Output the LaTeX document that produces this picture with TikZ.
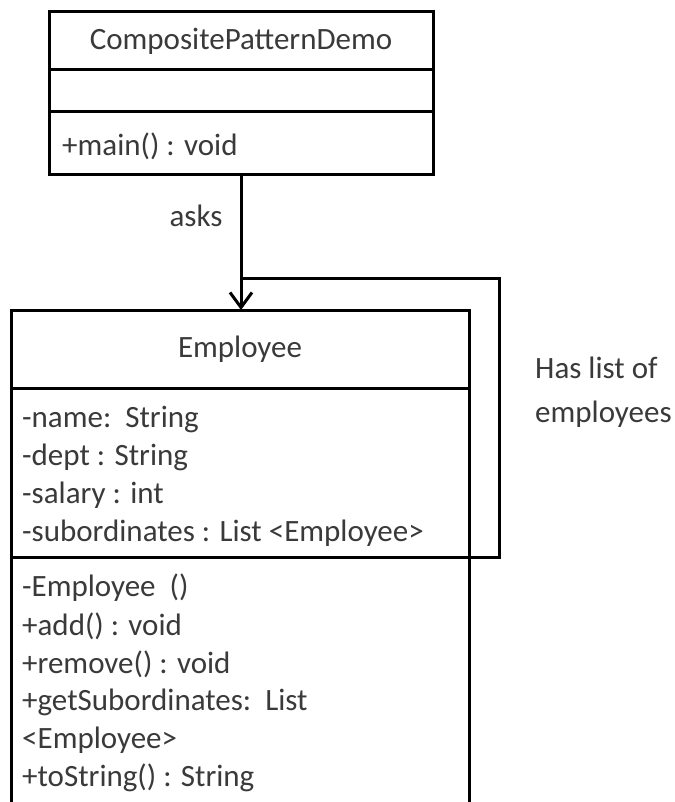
\documentclass[tikz,border=0pt]{standalone}
\usepackage{fontspec}
\setmainfont{Carlito}
\usetikzlibrary{arrows.meta}
\definecolor{txt}{HTML}{3A3A3A}
\begin{document}
\begin{tikzpicture}[x=1pt,y=-1pt,
  umlbox/.style={draw=black, line width=3pt, rectangle, inner sep=0pt, outer sep=0pt},
  lbl/.style={text=txt, font=\fontsize{31}{38}\selectfont, inner sep=0pt},
  conn/.style={draw=black, line width=3pt}]
\clip (0,0) rectangle (674,802);
\fill[white] (0,0) rectangle (674,802);
% CompositePatternDemo class
\node[umlbox, minimum width=384pt, minimum height=58pt] (cpdT) at (241,41) {};
\node[umlbox, minimum width=384pt, minimum height=42pt] (cpdA) at (241,91) {};
\node[umlbox, minimum width=384pt, minimum height=63pt] (cpdM) at (241,143.5) {};
\node[lbl] (cpdname) at (241,41) {CompositePatternDemo};
\node[lbl, anchor=west] (cpdm1) at (62,146) {+main() : void};
% Employee class
\node[umlbox, minimum width=458pt, minimum height=78pt] (empT) at (240,349) {};
\node[umlbox, minimum width=458pt, minimum height=169pt] (empA) at (240,472.5) {};
\node[umlbox, minimum width=458pt, minimum height=270pt] (empM) at (240,692) {};
\node[lbl] (empname) at (240,349) {Employee};
\node[lbl, anchor=west] (a1) at (22,419) {-name:\ \ String};
\node[lbl, anchor=west] (a2) at (22,457) {-dept : String};
\node[lbl, anchor=west] (a3) at (22,495) {-salary : int};
\node[lbl, anchor=west] (a4) at (22,533) {-subordinates : List <Employee>};
\node[lbl, anchor=west] (m1) at (22,588) {-Employee\ \ ()};
\node[lbl, anchor=west] (m2) at (22,626) {+add() : void};
\node[lbl, anchor=west] (m3) at (22,664) {+remove() : void};
\node[lbl, anchor=west] (m4) at (22,702) {+getSubordinates:\ \ List};
\node[lbl, anchor=west] (m5) at (22,740) {<Employee>};
\node[lbl, anchor=west] (m6) at (22,778) {+toString() : String};
% association asks
\draw[conn, -{Straight Barb[length=15pt,width=22pt,line width=3pt]}] (cpdM.south -| 241,0) -- (empT.north -| 241,0);
\node[lbl] (asks) at (196,216) {asks};
% self association
\coordinate (loopstart) at (241,278);
\coordinate (loopend) at (empA.south east);
\draw[conn, line join=miter] (loopstart) -- (499,278) -- (499,557) -- (loopend);
\node[lbl, anchor=west] (has1) at (535,368) {Has list of};
\node[lbl, anchor=west] (has2) at (535,414) {employees};
\end{tikzpicture}
\end{document}
